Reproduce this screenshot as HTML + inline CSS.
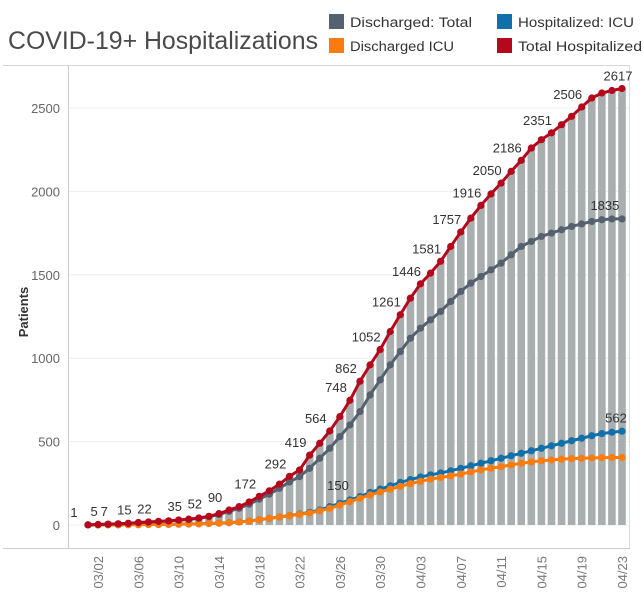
<!DOCTYPE html>
<html><head><meta charset="utf-8"><style>
body{margin:0;background:#fff;font-family:"Liberation Sans",sans-serif}
svg{display:block}
</style></head><body>
<svg id="chart" width="644" height="607">
<text x="8" y="49" font-size="25" fill="#4a4a4a" textLength="310" lengthAdjust="spacingAndGlyphs">COVID-19+ Hospitalizations</text>
<g>
<g><rect x="329" y="14" width="15" height="15" fill="#566170"/><text x="350" y="27" font-size="13.5" fill="#333" textLength="122" lengthAdjust="spacingAndGlyphs">Discharged: Total</text></g>
<g><rect x="329" y="38" width="15" height="15" fill="#fb7c0e"/><text x="350" y="51" font-size="13.5" fill="#333" textLength="104" lengthAdjust="spacingAndGlyphs">Discharged ICU</text></g>
<g><rect x="497" y="14" width="15" height="15" fill="#1170aa"/><text x="518" y="27" font-size="13.5" fill="#333" textLength="116" lengthAdjust="spacingAndGlyphs">Hospitalized: ICU</text></g>
<g><rect x="497" y="38" width="15" height="15" fill="#b5081c"/><text x="518" y="51" font-size="13.5" fill="#333" textLength="124" lengthAdjust="spacingAndGlyphs">Total Hospitalized</text></g>
</g>
<rect x="3" y="65" width="627" height="0.8" fill="#ccc"/>
<rect x="68" y="65" width="1" height="484" fill="#ccc"/>
<rect x="629" y="65" width="1" height="484" fill="#ddd"/>
<rect x="3" y="548" width="627" height="1" fill="#ccc"/>
<text transform="translate(28,312) rotate(-90)" text-anchor="middle" font-size="13" font-weight="bold" fill="#333">Patients</text>
<g id="grid"></g><g id="bars"></g><g id="lines"></g><g id="labels"></g><g id="xt"></g>
</svg>
<script>
const dates=[];
const monthDays=[["03",1,31],["04",1,23]];
monthDays.forEach(m=>{for(let d=m[1];d<=m[2];d++)dates.push(m[0]+"/"+String(d).padStart(2,"0"));});
const totalHosp=[1,3,5,7,10,15,18,22,25,30,35,42,52,68,90,110,138,172,205,245,292,330,419,490,564,650,748,862,960,1052,1160,1261,1360,1446,1510,1581,1670,1757,1840,1916,1985,2050,2120,2186,2260,2310,2351,2400,2450,2506,2560,2590,2605,2617];
const dischargedTotal=[1,3,5,7,10,14,17,21,24,29,33,40,50,62,82,100,125,155,185,220,258,290,340,400,460,530,600,680,780,870,960,1040,1120,1180,1230,1280,1340,1400,1450,1490,1530,1570,1620,1670,1700,1730,1750,1770,1790,1805,1820,1830,1835,1835];
const dischargedICU=[0,0,1,1,2,2,3,3,4,5,6,7,9,11,14,18,24,32,40,48,56,64,72,85,100,120,140,160,180,198,215,232,248,262,275,285,295,305,318,330,340,350,360,370,378,385,390,395,398,400,402,404,405,405];
const hospICU=[0,0,1,1,2,2,3,3,4,5,6,7,9,11,14,18,24,32,40,48,56,66,76,90,110,130,150,170,195,215,235,255,272,288,300,312,325,340,355,370,385,400,415,430,445,460,475,490,505,520,535,548,556,562];
const labelIdx=[0,2,3,5,7,10,12,14,17,20,22,24,26,27,29,31,33,35,37,39,41,43,46,49,53];
const yTicks=[0,500,1000,1500,2000,2500];
const xTickEvery=4, xTickStart=1;
const ICUlabelIdx=[26], dischargedLabelIdx=[52];

const NS="http://www.w3.org/2000/svg";
const x0=88, dx=(622-88)/(dates.length-1);
const X=i=>x0+i*dx;
const Y=v=>525-v*(417/2500);
function mk(tag,attrs,parent){const e=document.createElementNS(NS,tag);for(const k in attrs)e.setAttribute(k,attrs[k]);document.getElementById(parent).appendChild(e);return e;}
yTicks.forEach(t=>{
  const l=mk("line",{x1:69,x2:629,y1:Y(t),y2:Y(t),stroke:"#eee","stroke-width":1},"grid");
  
  
  const tx=mk("text",{x:60,y:Y(t)+5,"text-anchor":"end","font-size":"13",fill:"#666"},"grid");
  tx.textContent=t;
  
  
});
totalHosp.forEach((v,i)=>{
  const b=mk("rect",{x:X(i)-3.8,y:Y(v),width:7.6,height:Y(0)-Y(v),fill:"#a9afaf"},"bars");
  
  
});
function series(arr,color,name){
  const p=mk("polyline",{points:arr.map((v,i)=>X(i)+","+Y(v)).join(" "),fill:"none",stroke:color,"stroke-width":3},"lines");
  
  
  arr.forEach((v,i)=>{
    const c=mk("circle",{cx:X(i),cy:Y(v),r:3.6,fill:color},"lines");
    
    
  });
}
series(hospICU,"#1170aa","hospitalized-icu");
series(dischargedICU,"#fb7c0e","discharged-icu");
series(dischargedTotal,"#566170","discharged-total");
series(totalHosp,"#b5081c","total-hospitalized");
function lab(arr,i,dxo,dyo){
  const t=mk("text",{x:X(i)+dxo,y:Y(arr[i])+dyo,"text-anchor":"middle","font-size":"13",fill:"#333"},"labels");
  t.textContent=arr[i];
  
  
}
labelIdx.forEach((i,k)=>lab(totalHosp,i,k==labelIdx.length-1?-4:-14,-8));
dischargedLabelIdx.forEach(i=>lab(dischargedTotal,i,-7,-9));
ICUlabelIdx.forEach(i=>lab(hospICU,i,-12,-10));
lab(hospICU,53,-6,-9);
dates.forEach((d,i)=>{
  if((i-xTickStart)%xTickEvery!==0||i<xTickStart)return;
  const t=mk("text",{transform:`translate(${X(i)+5},556) rotate(-90)`,"text-anchor":"end","font-size":"13",fill:"#777"},"xt");
  t.textContent=d;
  
  
});
</script>
</body></html>
